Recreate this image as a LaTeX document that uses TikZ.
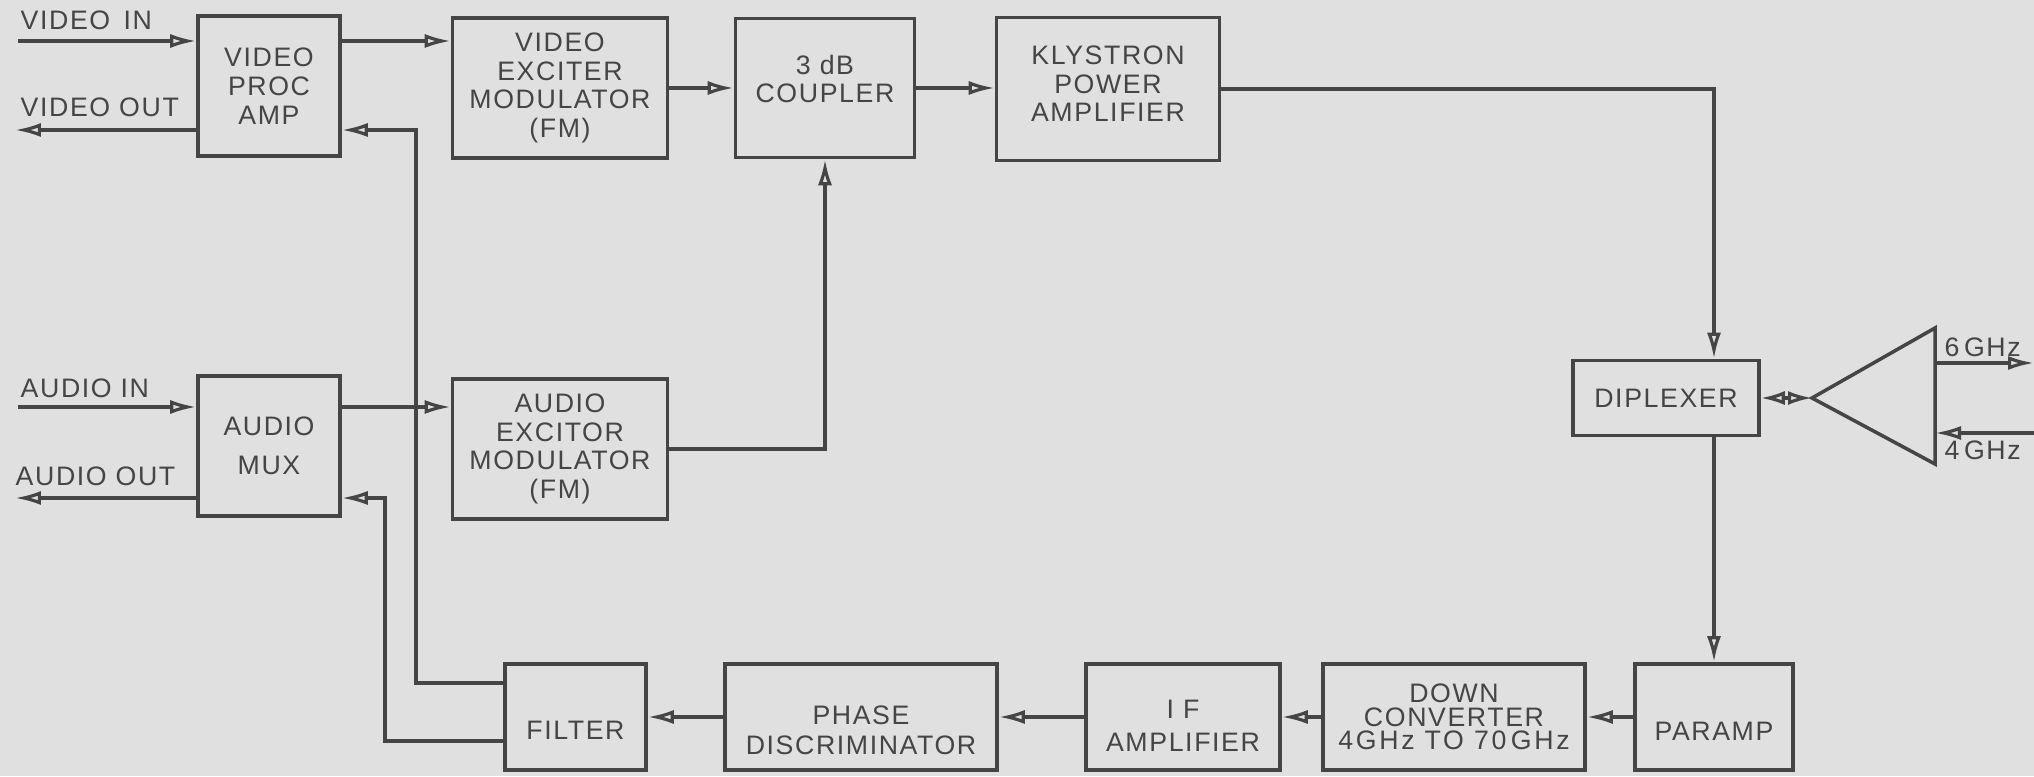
\documentclass[tikz,border=0pt]{standalone}
\usepackage{fontspec}
\setmainfont{Liberation Sans}[LetterSpace=6]
\usetikzlibrary{arrows.meta}
\definecolor{paper}{gray}{0.88}
\definecolor{ink}{gray}{0.27}

\begin{document}
\begin{tikzpicture}[x=1cm,y=1cm,
  every node/.style={font=\fontsize{7.6}{8.2}\selectfont, text=ink},
  blk/.style={draw=ink, line width=1pt, align=center, inner sep=0pt},
  arr/.style={draw=ink, line width=0.9pt, -{Latex[open,length=2.6mm,width=1.4mm]}},
  biarr/.style={draw=ink, line width=0.9pt, {Latex[open,length=2.4mm,width=1.4mm]}-{Latex[open,length=2.4mm,width=1.4mm]}},
  wire/.style={draw=ink, line width=1pt},
  lbl/.style={inner sep=0pt, anchor=base west}]
\useasboundingbox[fill=paper] (0,0) rectangle (20.34,7.76);

% transmit chain
\node[blk, minimum width=1.42cm, minimum height=1.40cm] (vpa) at (2.69,6.90) {VIDEO\\PROC\\AMP};
\node[blk, minimum width=2.15cm, minimum height=1.40cm] (vem) at (5.60,6.88) {VIDEO\\EXCITER\\MODULATOR\\(FM)};
\node[blk, minimum width=1.79cm, minimum height=1.39cm] (cpl) at (8.25,6.88) {3 dB\\COUPLER\\[-3pt]};
\node[blk, minimum width=2.23cm, minimum height=1.43cm] (kly) at (11.08,6.87) {KLYSTRON\\POWER\\AMPLIFIER\\[-5.2pt]};
\node[blk, minimum width=1.42cm, minimum height=1.40cm] (mux) at (2.69,3.30) {AUDIO\\[3pt]MUX};
\node[blk, minimum width=2.15cm, minimum height=1.40cm] (aem) at (5.60,3.27) {AUDIO\\EXCITOR\\MODULATOR\\(FM)};
\node[blk, minimum width=1.86cm, minimum height=0.75cm] (dpx) at (16.66,3.78) {DIPLEXER};

% receive chain
\node[blk, minimum width=1.58cm, minimum height=1.06cm] (paramp) at (17.14,0.59) {\vphantom{A}\\[0pt]PARAMP};
\node[blk, minimum width=2.62cm, minimum height=1.06cm] (down) at (14.54,0.59) {DOWN\\[-1.5pt]CONVERTER\\[-1.5pt]{\addfontfeature{LetterSpace=10}4GHz TO 70\,GHz}};
\node[blk, minimum width=1.94cm, minimum height=1.06cm] (ifa) at (11.83,0.59) {\vphantom{A}\\[-3.2pt]I F\\[1pt]AMPLIFIER};
\node[blk, minimum width=2.72cm, minimum height=1.06cm] (phd) at (8.61,0.59) {\vphantom{A}\\[-0.6pt]PHASE\\[0.5pt]DISCRIMINATOR};
\node[blk, minimum width=1.41cm, minimum height=1.06cm] (flt) at (5.755,0.59) {\vphantom{A}\\[-0.8pt]FILTER};

\coordinate (vin) at (0.18,7.35);
\coordinate (vout) at (0.15,6.46);
\coordinate (ain) at (0.18,3.69);
\coordinate (aout) at (0.15,2.78);
\coordinate (horn) at (18.12,3.78);
\coordinate (hornT) at (19.35,4.48);
\coordinate (hornB) at (19.35,3.12);
\coordinate (tx) at (20.34,4.13);
\coordinate (rx) at (20.34,3.43);
\coordinate (fbv) at (4.16,0.93);
\coordinate (fba) at (3.85,0.35);

\node[lbl] (vinl) at (0.20,7.46) {VIDEO\ \,IN};
\node[lbl] (voutl) at (0.20,6.59) {VIDEO OUT};
\node[lbl] (ainl) at (0.20,3.78) {AUDIO IN};
\node[lbl] (aoutl) at (0.15,2.90) {AUDIO OUT};
\node[lbl] (txl) at (19.44,4.19) {6\,GHz};
\node[lbl] (rxl) at (19.44,3.16) {4\,GHz};

\draw[arr] (vin) -- (vin -| vpa.west);
\draw[arr] (vout -| vpa.west) -- (vout);
\draw[arr] (vin -| vpa.east) -- (vin -| vem.west);
\draw[arr] (vem.east) -- (vem.east -| cpl.west);
\draw[arr] (cpl.east) -- (cpl.east -| kly.west);
\draw[arr] (kly.east) -| (paramp.north |- dpx.north);
\draw[arr] (paramp.north |- dpx.south) -- (paramp.north);
\draw[biarr] (dpx.east) -- (horn);
\draw[wire] (horn) -- (hornT) -- (hornB) -- cycle;
\draw[arr] (tx -| hornT) -- (tx);
\draw[arr] (rx) -- (rx -| hornB);
\draw[arr] (ain) -- (ain -| mux.west);
\draw[arr] (aout -| mux.west) -- (aout);
\draw[arr] (ain -| mux.east) -- (ain -| aem.west);
\draw[arr] (aem.east) -| (cpl.south);
\draw[arr] (paramp.west) -- (down.east);
\draw[arr] (down.west) -- (ifa.east);
\draw[arr] (ifa.west) -- (phd.east);
\draw[arr] (phd.west) -- (flt.east);
\draw[arr] (fbv -| flt.west) -- (fbv) |- (vout -| vpa.east);
\draw[arr] (fba -| flt.west) -- (fba) |- (aout -| mux.east);
\end{tikzpicture}
\end{document}
